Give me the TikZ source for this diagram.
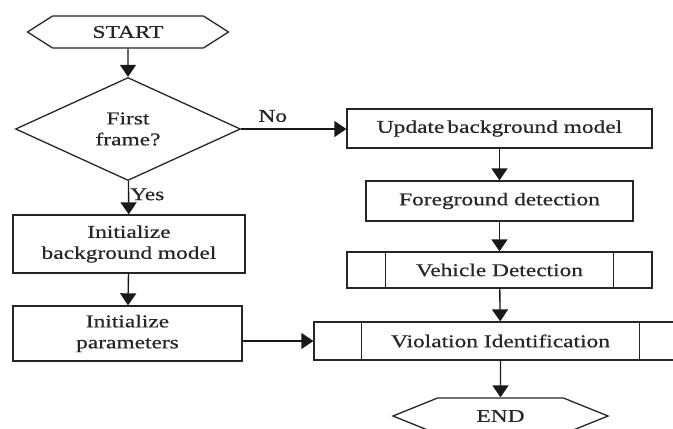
\documentclass[tikz,border=0pt]{standalone}
\usepackage{fontspec}
\setmainfont{Liberation Serif}[FakeStretch=1.3, FakeBold=0.6]
\usepackage{tikz}
\usetikzlibrary{arrows.meta, positioning, shapes.geometric, shapes.symbols}

\begin{document}
\begin{tikzpicture}[
  x=1pt, y=-1pt,
  term/.style={draw=black!85, line width=1.3pt, signal, signal to=west and east,
               inner sep=0pt, text=black!85, font=\fontsize{18}{21}\selectfont},
  box/.style={draw=black!85, line width=1.3pt, rectangle, inner sep=2pt,
              align=center, text=black!85, font=\fontsize{18}{21}\selectfont},
  decision/.style={draw=black!85, line width=1.3pt, diamond, aspect=2.2, inner sep=0pt,
                   align=center, text=black!85, font=\fontsize{18}{21}\selectfont},
  lbl/.style={text=black!85, font=\fontsize{18}{21}\selectfont},
  arr/.style={-{Triangle[length=12pt, width=16pt]}, line width=1.4pt, draw=black!90},
]
  \useasboundingbox (0,0) rectangle (673,429);
  \clip (0,0) rectangle (673,429);

  % left column
  \node[term, minimum width=201pt, minimum height=32pt, signal pointer angle=65] (start) at (128,32) {START};
  \node[decision, minimum width=225pt, minimum height=103pt] (first) at (128,129) {First\\frame?};
  \node[box, minimum width=232pt, minimum height=58pt] (initbg) at (129,244) {Initialize\\background model};
  \node[box, minimum width=229pt, minimum height=55pt] (initpar) at (127.5,333.5) {Initialize\\parameters};

  % right column
  \node[box, minimum width=305pt, minimum height=39pt] (update) at (499.5,128.5) {Update\,background model};
  \node[box, minimum width=267pt, minimum height=40pt] (fore) at (499.5,201) {Foreground detection};
  \node[box, minimum width=305pt, minimum height=36pt] (veh) at (499.5,270) {Vehicle Detection};
  \node[box, minimum width=373pt, minimum height=38pt] (viol) at (500.5,341) {Violation Identification};
  \node[term, minimum width=215pt, minimum height=36pt, signal pointer angle=44] (end) at (500.5,416) {END};

  % predefined process bars
  \draw[line width=1.3pt, draw=black!85] ([xshift=39pt]veh.north west) -- ([xshift=39pt]veh.south west);
  \draw[line width=1.3pt, draw=black!85] ([xshift=-39pt]veh.north east) -- ([xshift=-39pt]veh.south east);
  \draw[line width=1.3pt, draw=black!85] ([xshift=48pt]viol.north west) -- ([xshift=48pt]viol.south west);
  \draw[line width=1.3pt, draw=black!85] ([xshift=-48pt]viol.north east) -- ([xshift=-48pt]viol.south east);

  \draw[arr] (start) -- (first);
  \draw[arr] (first.east) -- node[lbl, above=3pt, pos=0.3] {No} (first.east -| update.west);
  \draw[arr] (first) -- node[lbl, right, pos=0.4, inner sep=1pt] {Yes} (initbg);
  \draw[arr] (initbg) -- (initpar);
  \draw[arr] (initpar.east |- viol.west) -- (viol.west);
  \draw[arr] (update) -- (fore);
  \draw[arr] (fore) -- (veh);
  \draw[arr] (veh) -- (viol);
  \draw[arr] (viol) -- (end);
\end{tikzpicture}
\end{document}
